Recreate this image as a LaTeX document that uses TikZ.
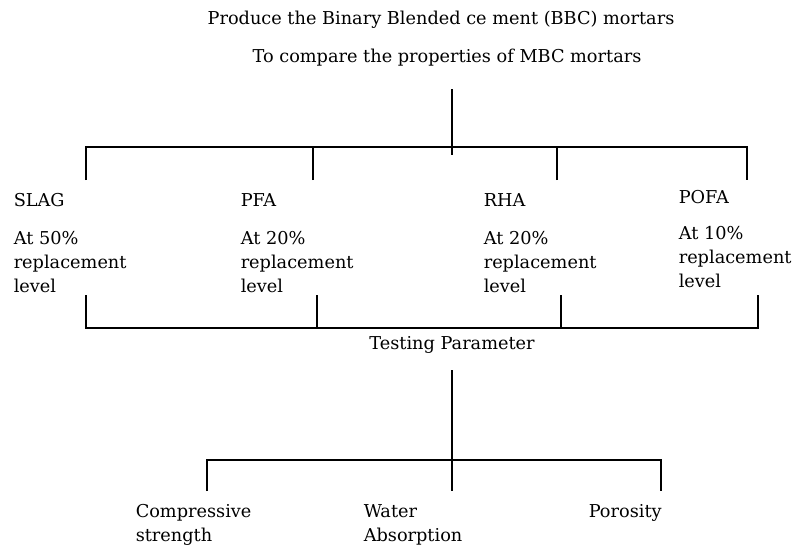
\documentclass[tikz,border=0pt]{standalone}
\usepackage{fontspec}
\setmainfont{DejaVu Serif}
\usepackage{tikz}

\tikzset{
	lbl/.style = {inner sep = 0pt, anchor = west, align = left, font = \fontsize{12.6}{17}\selectfont},
	ttl/.style = {inner sep = 0pt, font = \fontsize{12.6}{17}\selectfont}
}

\begin{document}
\begin{tikzpicture}[x = .025cm, y = -.025cm, line width = 1.1pt]
	\useasboundingbox (0,0) rectangle (794,554);
	% aims
	\node [ttl] (title) at (441,20) {Produce the Binary Blended ce ment (BBC) mortars};
	\node [ttl] (aim) at (447,58) {To compare the properties of MBC mortars};
	\coordinate (top) at (452,89);
	\coordinate (topend) at (452,155);
	\coordinate (slagup) at (86,180);
	\coordinate (pfaup) at (313,180);
	\coordinate (rhaup) at (557,180);
	\coordinate (pofaup) at (747,180);
	\draw (top) -- (topend);
	\draw (slagup) -- ++(0,-33) -| (pofaup);
	\draw (pfaup) -- ++(0,-33);
	\draw (rhaup) -- ++(0,-33);
	% materials
	\node [lbl] (slag) at (13,200) {SLAG};
	\node [lbl] (slaglvl) at (13,262) {At 50\%\\replacement\\level};
	\node [lbl] (pfa) at (240,200) {PFA};
	\node [lbl] (pfalvl) at (240,262) {At 20\%\\replacement\\level};
	\node [lbl] (rha) at (483,200) {RHA};
	\node [lbl] (rhalvl) at (483,262) {At 20\%\\replacement\\level};
	\node [lbl] (pofa) at (678,197) {POFA};
	\node [lbl] (pofalvl) at (678,257) {At 10\%\\replacement\\level};
	\coordinate (slagdn) at (86,295);
	\coordinate (pfadn) at (317,295);
	\coordinate (rhadn) at (561,295);
	\coordinate (pofadn) at (758,295);
	\draw (slagdn) -- ++(0,33) -| (pofadn);
	\draw (pfadn) -- ++(0,33);
	\draw (rhadn) -- ++(0,33);
	% tests
	\node [ttl] (test) at (452,345) {Testing Parameter};
	\coordinate (mid) at (452,370);
	\coordinate (midend) at (452,491);
	\coordinate (compup) at (207,491);
	\coordinate (poroup) at (661,491);
	\draw (mid) -- (midend);
	\draw (compup) -- ++(0,-31) -| (poroup);
	\node [lbl] (comp) at (135,525) {Compressive\\strength};
	\node [lbl] (water) at (363,525) {Water\\Absorption};
	\node [lbl] (poro) at (588,513) {Porosity};
\end{tikzpicture}
\end{document}
